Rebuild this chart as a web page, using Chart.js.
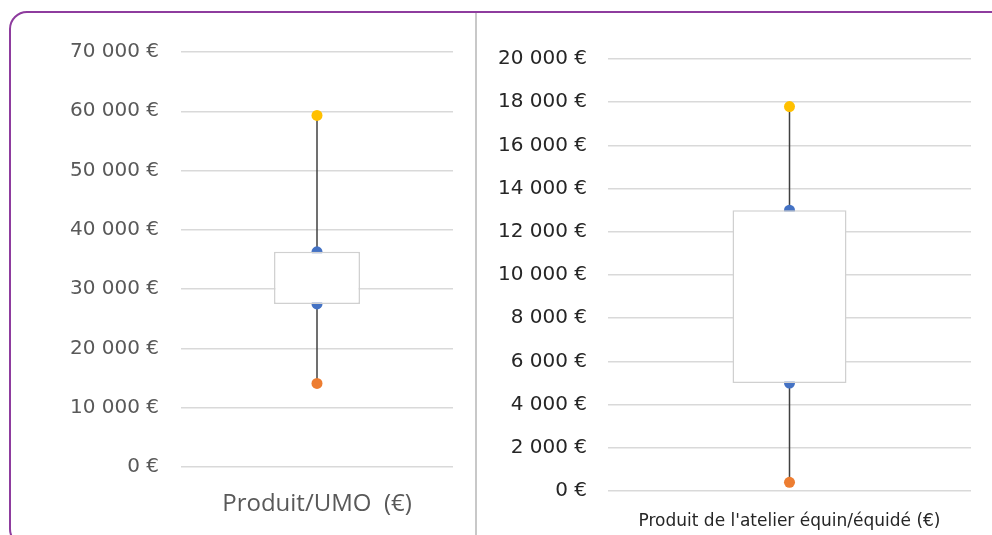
<!DOCTYPE html>
<html>
<head>
<meta charset="utf-8">
<script src="https://cdn.jsdelivr.net/npm/chart.js@4.4.1/dist/chart.umd.min.js"></script>
<style>
  html, body { margin: 0; padding: 0; background: #fff; }
  #wrap { position: relative; width: 992px; height: 535px; overflow: hidden; background: #fff; }
  #frame { position: absolute; left: 9px; top: 11px; width: 1010px; height: 536px; border: 2px solid #8e3c9e; border-radius: 18px; box-sizing: border-box; }
  #sep { position: absolute; left: 475px; top: 13px; width: 2px; height: 522px; background: #c8c8c8; }
  .box { position: absolute; top: 13px; height: 522px; }
  #boxUmo { left: 10px; width: 465px; }
  #boxAtelier { left: 478px; width: 514px; }
</style>
</head>
<body>
<div id="wrap">
  <div id="frame"></div>
  <div id="sep"></div>
  <div class="box" id="boxUmo"><canvas id="chartUmo"></canvas></div>
  <div class="box" id="boxAtelier"><canvas id="chartAtelier"></canvas></div>
</div>
<script>
  /* Données */
  const categories = ['Produit/UMO  (€)', "Produit de l'atelier équin/équidé (€)"];
  const minValues = [14100, 400];
  const q1Values = [27500, 5000];
  const q3Values = [36300, 13000];
  const maxValues = [59300, 17800];
  const axisMax = [70000, 20000];
  const axisStep = [10000, 2000];

  const colorMin = '#ed7d31';
  const colorQ = '#4472c4';
  const colorMax = '#ffc000';

  function euro(value) {
    return value.toString().replace(/\B(?=(\d{3})+(?!\d))/g, ' ') + ' €';
  }

  function drawBox(canvasId, i, cfg) {
    const label = categories[i];
    const ctx = document.getElementById(canvasId);

    return new Chart(ctx, {
      type: 'bar',
      data: {
        labels: [label],
        datasets: [
          {
            // boîte Q1 - Q3
            type: 'bar',
            data: [[q1Values[i], q3Values[i]]],
            backgroundColor: '#ffffff',
            borderColor: '#d0d0d0',
            borderWidth: 1.5,
            borderSkipped: false,
            barPercentage: 1,
            categoryPercentage: cfg.boxWidth,
            order: 0,
          },
          {
            // moustaches et points
            type: 'line',
            data: [
              { x: label, y: minValues[i] },
              { x: label, y: q1Values[i] },
              { x: label, y: q3Values[i] },
              { x: label, y: maxValues[i] },
            ],
            borderColor: '#404040',
            borderWidth: 1.5,
            pointRadius: 5.5,
            pointBorderWidth: 0,
            pointBackgroundColor: [colorMin, colorQ, colorQ, colorMax],
            order: 1,
          },
        ],
      },
      options: {
        responsive: true,
        maintainAspectRatio: false,
        animation: false,
        layout: {
          padding: { top: cfg.top, right: cfg.right, left: 0, bottom: 0 },
        },
        scales: {
          x: {
            grid: { display: false },
            border: { display: false },
            ticks: {
              color: cfg.labelColor,
              font: { family: cfg.labelFont, size: cfg.labelSize },
              padding: cfg.labelPad,
            },
            afterFit: (scale) => { scale.height = cfg.xHeight; },
          },
          y: {
            min: 0,
            max: axisMax[i],
            grid: { color: '#d9d9d9', lineWidth: 1.5, drawTicks: false },
            border: { display: false },
            ticks: {
              stepSize: axisStep[i],
              color: cfg.tickColor,
              font: { family: 'DejaVu Sans', size: cfg.tickSize },
              padding: cfg.tickPad,
              callback: (value) => euro(value),
            },
            afterFit: (scale) => { scale.width = cfg.yWidth; },
          },
        },
        plugins: {
          legend: { display: false },
          tooltip: { enabled: false },
        },
      },
    });
  }

  drawBox('chartUmo', 0, {
    boxWidth: 0.316, top: 39, right: 22, xHeight: 68, yWidth: 171,
    tickColor: '#595959', tickSize: 20, tickPad: 22,
    labelColor: '#595959', labelFont: 'Open Sans', labelSize: 24, labelPad: 15,
  });

  drawBox('chartAtelier', 1, {
    boxWidth: 0.314, top: 46, right: 21, xHeight: 44, yWidth: 130,
    tickColor: '#262626', tickSize: 20, tickPad: 21,
    labelColor: '#262626', labelFont: 'DejaVu Sans', labelSize: 17, labelPad: 12,
  });
</script>
</body>
</html>
